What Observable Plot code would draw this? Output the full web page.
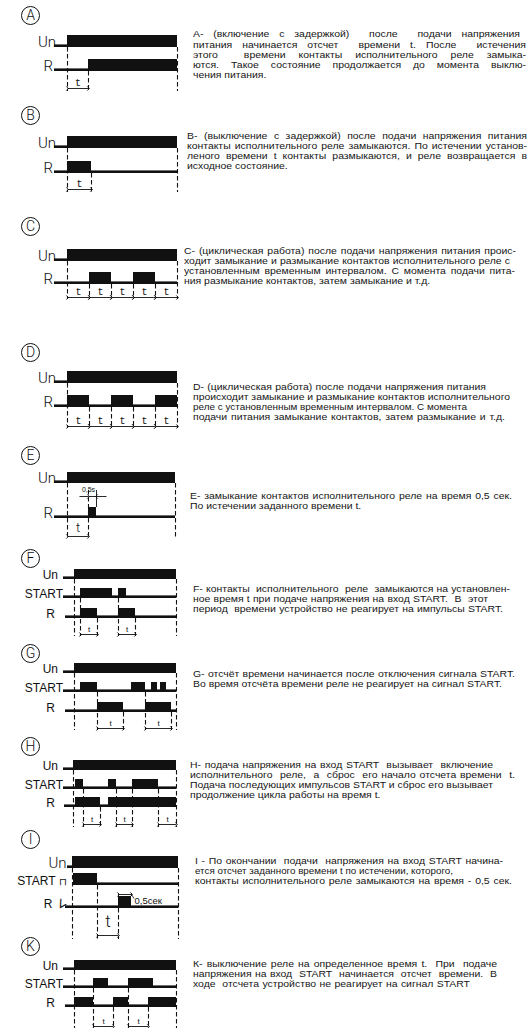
<!DOCTYPE html>
<html><head><meta charset="utf-8">
<script src="https://cdn.jsdelivr.net/npm/d3@7"></script>
<script src="https://cdn.jsdelivr.net/npm/@observablehq/plot@0.6"></script>
<style>
html,body{margin:0;padding:0;background:#fff;}
#page{position:relative;width:532px;height:1028px;overflow:hidden;background:#fff;}
.desc{position:absolute;font-family:"Liberation Sans",Arial,sans-serif;font-size:8.7px;line-height:9px;height:9px;color:#151515;white-space:pre;transform-origin:0 50%;}
</style></head><body><div id="page"></div>
<script>
// ---------------- DATA ----------------
// time units; 0 = moment the supply voltage Un is applied
const letters = ["A","B","C","D","E","F","G","H","I","K"];
const endTimes = [110,110,110,110,108,102,102,103,106,102];

// high intervals (voltage present / contact closed)
const A_Un=[[0,110]], A_R=[[21,110]], A_t=[[0,21]];
const B_Un=[[0,110]], B_R=[[0,24]], B_t=[[0,24]];
const C_Un=[[0,110]], C_R=[[22,44],[66,88]], C_t=[[0,22],[22,44],[44,66],[66,88],[88,110]];
const D_Un=[[0,110]], D_R=[[0,22],[44,66],[88,110]], D_t=[[0,22],[22,44],[44,66],[66,88],[88,110]];
const E_Un=[[0,108]], E_R=[[21,29]], E_t=[[0,21]];
const F_Un=[[0,102]], F_START=[[6,38],[44,52]], F_R=[[6,23],[44,61]], F_t=[[6,23],[44,61]];
const G_Un=[[0,102]], G_START=[[6,23],[57,71],[77,83],[86,92]], G_R=[[23,49],[71,97]], G_t=[[23,49],[71,97]];
const H_Un=[[0,103]], H_START=[[2,10],[35,43],[59,85]], H_R=[[2,27],[35,103]], H_t=[[10,27],[43,59],[85,103]];
const I_Un=[[0,106]], I_START=[[1,25]], I_R=[[46,59]], I_t=[[25,46]];
const K_Un=[[0,102]], K_START=[[19,34],[54,79]], K_R=[[0,19],[39,54],[74,102]], K_t=[[19,39],[54,74]];

// dashed marker lines: [time, row it drops from]
const A_dash=[[0,"Un"],[21,"R"],[110,"Un"]];
const B_dash=[[0,"Un"],[24,"R"],[110,"Un"]];
const C_dash=[[0,"Un"],[22,"R"],[44,"R"],[66,"R"],[88,"R"],[110,"Un"]];
const D_dash=[[0,"Un"],[22,"R"],[44,"R"],[66,"R"],[88,"R"],[110,"Un"]];
const E_dash=[[0,"Un"],[21,"ann"],[108,"Un"]];
const F_dash=[[0,"Un"],[6,"START"],[23,"R"],[44,"START"],[61,"R"],[102,"Un"]];
const G_dash=[[0,"Un"],[23,"START"],[49,"R"],[71,"START"],[97,"R"],[102,"Un"]];
const H_dash=[[0,"Un"],[10,"START"],[27,"R"],[43,"START"],[59,"START"],[85,"START"],[103,"Un"]];
const I_dash=[[0,"Un"],[25,"START"],[46,"R"],[106,"Un"]];
const K_dash=[[0,"Un"],[19,"START"],[39,"R"],[54,"START"],[74,"R"],[102,"Un"]];

const E_note = "0,5s";
const I_note = "0,5сек";

// description texts (line by line)
const descA = ["A- (включение с задержкой)  после  подачи напряжения","питания начинается отсчет  времени t. После  истечения","этого  времени контакты исполнительного реле замыка-","ются. Такое состояние продолжается до момента выклю-","чения питания."];
const descB = ["B- (выключение с задержкой) после подачи напряжения питания","контакты исполнительного реле замыкаются. По истечении установ-","леного времени t контакты размыкаются, и реле возвращается в","исходное состояние."];
const descC = ["С- (циклическая работа) после подачи напряжения питания проис-","ходит замыкание и размыкание контактов исполнительного реле с","установленным временным интервалом. С момента подачи пита-","ния размыкание контактов, затем замыкание и т.д."];
const descD = ["D- (циклическая работа) после подачи напряжения питания","происходит замыкание и размыкание контактов исполнительного","реле с установленным временным интервалом. С момента","подачи питания замыкание контактов, затем размыкание и т.д."];
const descE = ["E- замыкание контактов исполнительного реле на время 0,5 сек.","По истечении заданного времени t."];
const descF = ["F- контакты  исполнительного  реле  замыкаются на установлен-","ное время t при подаче напряжения на вход START.  В  этот","период  времени устройство не реагирует на импульсы START."];
const descG = ["G- отсчёт времени начинается после отключения сигнала START.","Во время отсчёта времени реле не реагирует на сигнал START."];
const descH = ["Н- подача напряжения на вход START  вызывает  включение","исполнительного  реле,  а  сброс  его начало отсчета времени  t.","Подача последующих импульсов START и сброс его вызывает","продолжение цикла работы на время t."];
const descI = ["I - По окончании  подачи  напряжения на вход START начина-","ется отсчет заданного времени t по истечении, которого,","контакты исполнительного реле замыкаются на время - 0,5 сек."];
const descK = ["К- выключение реле на определенное время t.  При  подаче","напряжения на вход  START  начинается  отсчет  времени.  В","ходе  отсчета устройство не реагирует на сигнал START"];

// ---------------- LAYOUT / STYLE ----------------
const ink = "#111";
const thin = {fontFamily:"Roboto, 'DejaVu Sans', sans-serif", fontWeight:300, fontSize:15};
const arial = {fontFamily:"'Liberation Sans', Arial, sans-serif", fontWeight:400, fontSize:12};
const monoT = {fontFamily:"'Liberation Mono', 'DejaVu Sans Mono', monospace", fontSize:10};
const smallT = {fontFamily:"'Liberation Sans', Arial, sans-serif", fontSize:8};
const preAE = {Un:-13, R:-13}, labAE = {Un:55.5, R:52.5};
const preFK = {Un:-11, START:-11, R:-9}, labFK = {Un:57.5, START:62.5, R:54.5};

const layouts = [
 {x0:67, cy:15,  base:{Un:47, R:71},  pre:preAE, bh:12, tl:85.5, ta:88,  dashEnd:91,  labX:labAE, lab:{Un:thin,R:thin}, tFont:monoT},
 {x0:67, cy:115, base:{Un:148,R:173}, pre:preAE, bh:12, tl:186.5,ta:189, dashEnd:192, labX:labAE, lab:{Un:thin,R:thin}, tFont:monoT},
 {x0:67, cy:226, base:{Un:261,R:284}, pre:preAE, bh:12, tl:294, ta:297, dashEnd:299, labX:labAE, lab:{Un:thin,R:thin}, tFont:monoT},
 {x0:67, cy:352, base:{Un:383,R:407}, pre:preAE, bh:12, tl:423, ta:426, dashEnd:428, labX:labAE, lab:{Un:thin,R:thin}, tFont:monoT},
 {x0:67, cy:455, base:{Un:483,R:518}, pre:preAE, bh:11, tl:531, ta:536, dashEnd:538, labX:labAE, lab:{Un:thin,R:thin}, tFont:{fontFamily:"Roboto, sans-serif", fontWeight:300, fontSize:13}, ann:{y:496, textY:491}},
 {x0:74, cy:558, base:{Un:579,START:598,R:618}, pre:preFK, bh:10, tl:631, ta:634, dashEnd:636, labX:labFK, lab:{Un:arial,START:arial,R:arial}, tFont:smallT},
 {x0:74, cy:653, base:{Un:673,START:692,R:712}, pre:preFK, bh:10, tl:725, ta:728, dashEnd:730, labX:labFK, lab:{Un:arial,START:arial,R:arial}, tFont:smallT},
 {x0:73, cy:746, base:{Un:770,START:789,R:807}, pre:{Un:-10,START:-10,R:-9}, bh:10, tl:821, ta:824, dashEnd:827, labX:labFK, lab:{Un:arial,START:arial,R:arial}, tFont:smallT},
 {x0:72, cy:839, base:{Un:868,START:885,R:908}, pre:{Un:-5,START:1,R:-7}, bh:12, tl:926, ta:935, dashEnd:939, labX:{Un:66,START:55,R:52}, lab:{Un:thin,START:arial,R:arial}, tFont:{fontFamily:"Roboto, sans-serif", fontWeight:300, fontSize:17}, ann:{y:894, textY:900}},
 {x0:74, cy:946, base:{Un:970,START:988,R:1007}, pre:preFK, bh:10, tl:1023, ta:1026, dashEnd:1028, labX:labFK, lab:{Un:arial,START:arial,R:arial}, tFont:smallT}
];

const signals = [
 [["Un",A_Un],["R",A_R]], [["Un",B_Un],["R",B_R]], [["Un",C_Un],["R",C_R]], [["Un",D_Un],["R",D_R]], [["Un",E_Un],["R",E_R]],
 [["Un",F_Un],["START",F_START],["R",F_R]], [["Un",G_Un],["START",G_START],["R",G_R]], [["Un",H_Un],["START",H_START],["R",H_R]],
 [["Un",I_Un],["START",I_START],["R",I_R]], [["Un",K_Un],["START",K_START],["R",K_R]]
];
const tSpans = [A_t,B_t,C_t,D_t,E_t,F_t,G_t,H_t,I_t,K_t];
const dashes = [A_dash,B_dash,C_dash,D_dash,E_dash,F_dash,G_dash,H_dash,I_dash,K_dash];
const descs = [descA,descB,descC,descD,descE,descF,descG,descH,descI,descK];
const descLeft = [193,187,184,193,190,193,193,190,195,193];
const descTop = [36,137,252,388,497,590,675,766,862,965];
const descEnds = [[520,526,526,526,0],[527,527,527,0],[516,510,515,0],[486,510,467,505],[512,0],[510,488,503],[515,502],[493,515,493,0],[503,453,512],[497,497,470]];
const refPitch = 9.6, pitch = 10.2, widen = 1.2;

const page = document.getElementById("page");

function drawDiagram(i) {
  const letter = letters[i], L = layouts[i], end = endTimes[i];
  const sigs = signals[i];
  const marks = [];
  // circled letter
  marks.push(Plot.dot([letter], {x:()=>30 - L.x0, y:()=>L.cy, r:9, stroke:ink, strokeWidth:1, fill:"white"}));
  marks.push(Plot.text([letter], {x:()=>30 - L.x0, y:()=>L.cy + 0.5, text:d=>d, textAnchor:"middle", lineAnchor:"middle", fill:ink, fontFamily:"Roboto, sans-serif", fontWeight:300, fontSize:14}));
  // dashed markers
  const fromY = (k) => k === "ann" ? L.ann.y - 6 : L.base[k];
  marks.push(Plot.ruleX(dashes[i], {x:d=>d[0], y1:d=>fromY(d[1]), y2:()=>L.dashEnd, stroke:ink, strokeWidth:1.1, strokeDasharray:"4.5,2.5"}));
  // signal rows
  for (const [name, highs] of sigs) {
    const base = L.base[name];
    marks.push(Plot.rect([name], {x1:()=>L.pre[name], x2:()=>end, y1:()=>base - 2.6, y2:()=>base, fill:ink}));
    marks.push(Plot.rect(highs, {x1:d=>d[0], x2:d=>d[1], y1:()=>base - L.bh, y2:()=>base, fill:ink}));
    marks.push(Plot.text([name], {frameAnchor:"top-left", dx:L.labX[name], dy:base - 0.5, text:d=>d, textAnchor:"end", lineAnchor:"bottom", fill:ink, ...L.lab[name]}));
  }
  // t dimension arrows
  marks.push(Plot.link(tSpans[i], {x1:d=>d[0], x2:d=>d[1], y1:()=>L.ta, y2:()=>L.ta, stroke:ink, strokeWidth:0.9, markerStart:"arrow", markerEnd:"arrow"}));
  marks.push(Plot.text(tSpans[i], {x:d=>(d[0]+d[1])/2, y:()=>L.tl, text:()=>"t", textAnchor:"middle", lineAnchor:"bottom", fill:ink, ...L.tFont}));
  // pulse annotations
  if (letter === "E") {
    const p = E_R[0];
    marks.push(Plot.text([E_note], {x:()=>(p[0]+p[1])/2 - 4, y:()=>L.ann.textY, text:d=>d, textAnchor:"middle", lineAnchor:"bottom", fontSize:7, fontFamily:"'Liberation Sans', Arial, sans-serif", fill:ink}));
    marks.push(Plot.link([[p[0]-9, p[0]], [p[1]+10, p[1]]], {x1:d=>d[0], x2:d=>d[1], y1:()=>L.ann.y, y2:()=>L.ann.y, stroke:ink, strokeWidth:0.9, markerEnd:"arrow"}));
    marks.push(Plot.link([p], {x1:d=>d[0], x2:d=>d[1], y1:()=>L.ann.y, y2:()=>L.ann.y, stroke:ink, strokeWidth:0.9}));
    marks.push(Plot.ruleX([p[1]], {x:d=>d, y1:()=>L.ann.y - 6, y2:()=>L.base.R - L.bh, stroke:ink, strokeWidth:0.9}));
  }
  if (letter === "I") {
    const p = I_R[0];
    marks.push(Plot.link([p], {x1:d=>d[0], x2:d=>d[1], y1:()=>L.ann.y, y2:()=>L.ann.y, stroke:ink, strokeWidth:0.9, markerStart:"arrow", markerEnd:"arrow"}));
    marks.push(Plot.ruleX(p, {x:d=>d, y1:()=>L.ann.y - 1, y2:()=>L.base.R - L.bh, stroke:ink, strokeWidth:0.9}));
    marks.push(Plot.link([p], {x1:d=>d[1], x2:d=>d[1] + 2.5, y1:()=>L.ann.y, y2:()=>L.ann.textY - 2, stroke:ink, strokeWidth:0.8}));
    marks.push(Plot.text([I_note], {x:()=>p[1] + 3, y:()=>L.ann.textY, text:d=>d, textAnchor:"start", lineAnchor:"middle", fontSize:9.5, fontFamily:"'Liberation Sans', Arial, sans-serif", fill:ink}));
    // small symbols next to START and R
    marks.push(Plot.text(["⊓"], {frameAnchor:"top-left", dx:62.5, dy:L.base.START - 4, text:d=>d, textAnchor:"middle", lineAnchor:"middle", fontSize:10, fontFamily:"'DejaVu Sans', sans-serif", fill:ink}));
    marks.push(Plot.text(["∠"], {frameAnchor:"top-left", dx:61, dy:L.base.R - 5, text:d=>d, textAnchor:"middle", lineAnchor:"middle", fontSize:11, fontFamily:"'DejaVu Sans', sans-serif", fill:ink, rotate:-30}));
  }
  const svg = Plot.plot({
    width:190, height:1028, marginTop:0, marginRight:0, marginBottom:0, marginLeft:0,
    style:{background:"transparent", overflow:"visible"},
    x:{type:"linear", domain:[-L.x0, 190 - L.x0], range:[0,190], axis:null},
    y:{type:"linear", domain:[0,1028], range:[0,1028], axis:null},
    marks
  });
  svg.style.position = "absolute";
  svg.style.left = "0px";
  svg.style.top = "0px";
  page.appendChild(svg);
}

function drawDesc(i) {
  const lines = descs[i], left = descLeft[i];
  const shift = (pitch - refPitch) * (lines.length - 1) / 2;
  lines.forEach((line, j) => {
    const div = document.createElement("div");
    div.className = "desc";
    div.style.left = left + "px";
    div.style.top = (descTop[i] - shift + j * pitch - 4.5) + "px";
    div.textContent = line;
    page.appendChild(div);
    const w = div.getBoundingClientRect().width;
    const target = descEnds[i][j];
    let k = widen, ws = 0;
    if (target) {
      const tw = target - left;
      const spaces = (line.match(/ /g) || []).length;
      if (w * k > tw) k = tw / w;
      else if (spaces) ws = (tw / k - w) / spaces;
    }
    if (ws) div.style.wordSpacing = ws + "px";
    div.style.transform = "scaleX(" + k + ")";
  });
}

letters.forEach((_, i) => { drawDiagram(i); drawDesc(i); });
</script>
</body></html>
